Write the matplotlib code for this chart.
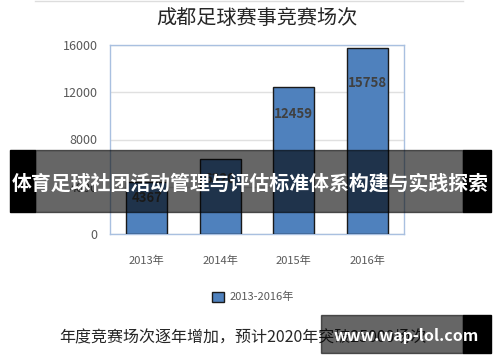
import matplotlib
matplotlib.use("Agg")
import matplotlib.pyplot as plt
from matplotlib.patches import Rectangle
from matplotlib.lines import Line2D

plt.rcParams['font.family'] = ['Noto Sans CJK SC', 'DejaVu Sans']

years = ['2013年', '2014年', '2015年', '2016年']
counts = [4367, 6320, 12459, 15758]
series_name = '2013-2016年'
yticks = [0, 4000, 8000, 12000, 16000]
title = '成都足球赛事竞赛场次'
footer = '年度竞赛场次逐年增加，预计2020年突破25000场次'
banner = '体育足球社团活动管理与评估标准体系构建与实践探索'
watermark = 'www.wap-lol.com'

# label offsets (points below bar top)
label_offsets = [-11, -14, -19.5, -25]

W, H = 500, 362
fig = plt.figure(figsize=(5, 3.62), dpi=100)
ax = fig.add_axes([110 / W, 1 - 234 / H, 294 / W, 189 / H])

x = range(len(years))
bars = ax.bar(x, counts, width=0.56, color='#4f81bd', edgecolor='#1a1a1a',
              linewidth=1.0, zorder=3, label=series_name)
for xi, v, off in zip(x, counts, label_offsets):
    ax.annotate(str(v), (xi, v), xytext=(0, off), textcoords='offset points',
                ha='center', va='center', fontsize=9.5, fontweight='bold',
                color='#404040', zorder=4)

ax.set_xlim(-0.5, len(years) - 0.5)
ax.set_ylim(0, 16000)
ax.set_yticks(yticks)
ax.set_yticklabels([str(t) for t in yticks])
ax.set_xticks(list(x))
ax.set_xticklabels(years)
ax.tick_params(length=0, labelsize=8, labelcolor='#595959')
ax.tick_params(axis='y', pad=9, labelsize=9)
ax.tick_params(axis='x', pad=15.5)
ax.grid(axis='y', color='#e0e0e0', linewidth=1, zorder=0)
for s in ax.spines.values():
    s.set_color('#a9c0e0')
    s.set_linewidth(1)

fig.text(0.514, 1 - 18 / H, title, ha='center', va='center', fontsize=14.5,
         color='#262626')

leg = fig.legend(loc='center', bbox_to_anchor=(0.506, 1 - 297 / H), frameon=False,
                 fontsize=8, handlelength=1.0, handleheight=1.0, handletextpad=0.5)
for t in leg.get_texts():
    t.set_color('#595959')

fig.text(0.485, 1 - 338 / H, footer, ha='center', va='center', fontsize=11.5,
         color='#262626')

# top thin line
fig.add_artist(Line2D([35 / W, 463 / W], [1 - 1 / H, 1 - 1 / H],
                      transform=fig.transFigure, color='#dddddd', linewidth=1))

# banner overlay
by0, bh = 1 - 212 / H, 62 / H
fig.add_artist(Rectangle((10 / W, by0), 25 / W, bh, transform=fig.transFigure,
                         color='black', zorder=10))
fig.add_artist(Rectangle((35 / W, by0), 428 / W, bh, transform=fig.transFigure,
                         color='black', alpha=0.6, zorder=10))
fig.add_artist(Rectangle((463 / W, by0), 28 / W, bh, transform=fig.transFigure,
                         color='black', zorder=10))
fig.text(250 / W, 1 - 183 / H, banner, ha='center', va='center', fontsize=14.3,
         fontweight='bold', color='white', zorder=11)

# watermark box
wy0, wh = 1 - 353 / H, 38 / H
fig.add_artist(Rectangle((321 / W, wy0), 142 / W, wh, transform=fig.transFigure,
                         color='black', alpha=0.6, zorder=10))
fig.add_artist(Rectangle((463 / W, wy0), 28 / W, wh, transform=fig.transFigure,
                         color='black', zorder=10))
fig.text(406 / W, 1 - 336 / H, watermark, ha='center', va='center', fontsize=11.5,
         fontweight='bold', color='white', zorder=11)

fig.savefig('out.png', dpi=100)
